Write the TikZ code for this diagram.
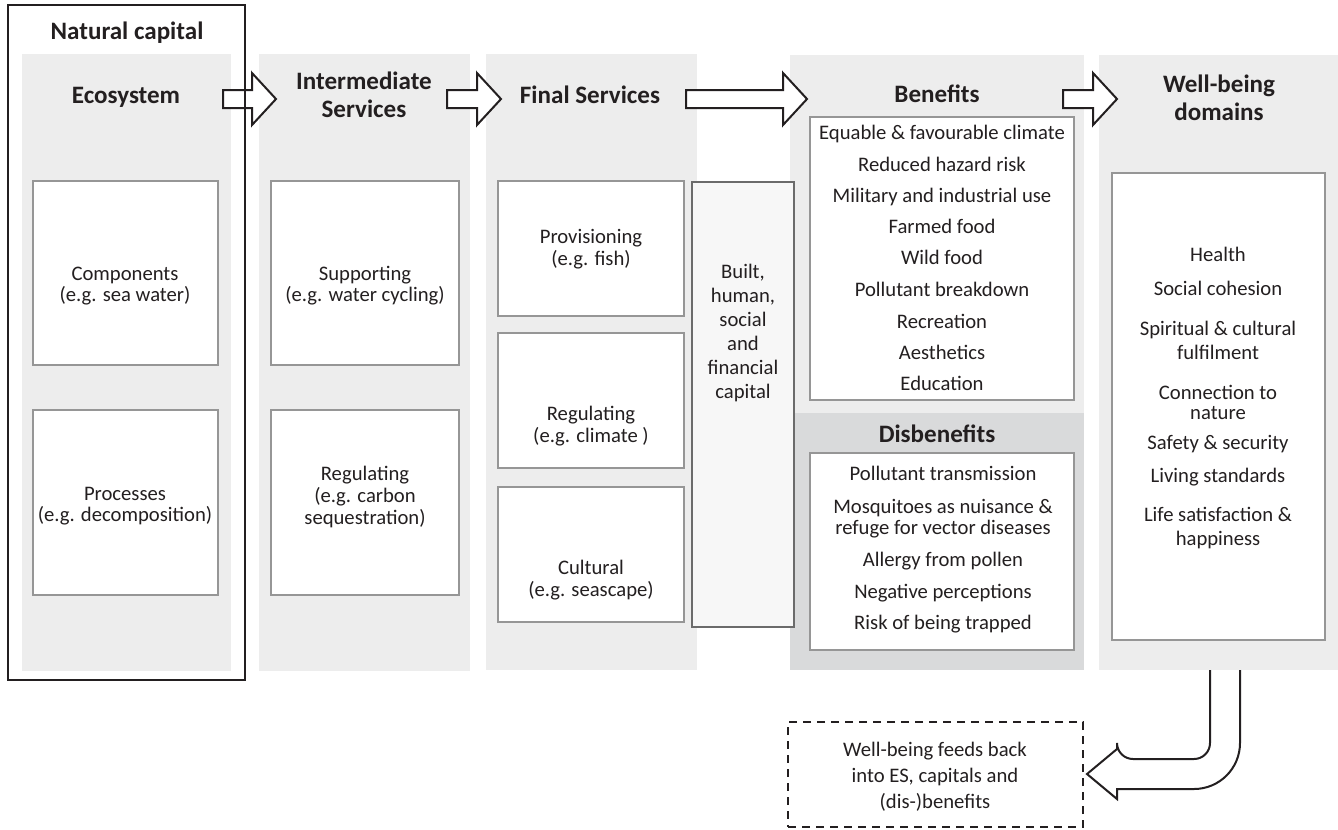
\documentclass[tikz,border=0pt]{standalone}
\usepackage{fontspec}
\setmainfont{Carlito}
\usetikzlibrary{fit}
\definecolor{panel}{HTML}{EDEDED}
\definecolor{dispanel}{HTML}{D9DADB}
\definecolor{bordergrey}{HTML}{969696}
\definecolor{builtborder}{HTML}{6B6B6B}
\definecolor{builtfill}{HTML}{F7F7F7}
\definecolor{ink}{HTML}{231F20}
\tikzset{
  panelbox/.style={fill=panel, draw=none, inner sep=0pt},
  dispanelbox/.style={fill=dispanel, draw=none, inner sep=0pt},
  subbox/.style={draw=bordergrey, line width=1.7pt, fill=white, inner sep=0pt},
  builtbox/.style={draw=builtborder, line width=1.6pt, fill=builtfill, inner sep=0pt},
  outerbox/.style={draw=ink, line width=2pt, inner sep=0pt},
  txt/.style={font=\fontsize{15.5}{18}\selectfont, text=ink, inner sep=0pt, text height=9.3pt, text depth=0pt},
  hd/.style={font=\fontsize{18.8}{22}\selectfont\bfseries, text=ink, inner sep=0pt, text height=11.3pt, text depth=0pt},
  blockarrow/.style={draw=ink, line width=1.5pt, fill=white, line join=miter},
  feedarrow/.style={draw=ink, line width=1.5pt, line join=miter},
  dashbox/.style={draw=ink, line width=1.5pt, dash pattern=on 6pt off 4.5pt, inner sep=0pt},
}
\begin{document}
\begin{tikzpicture}[x=0.75pt,y=-0.75pt]
\useasboundingbox (0,0) rectangle (1338,829);
% panels
\node[panelbox, fit={(22,54)(231,671)}] (ecopanel) {};
\node[panelbox, fit={(259,54)(470,671)}] (intpanel) {};
\node[panelbox, fit={(486,54)(697,670)}] (finpanel) {};
\node[panelbox, fit={(790,55)(1084,670)}] (benpanel) {};
\node[dispanelbox, fit={(790,413)(1084,670)}] (dispanel) {};
\node[panelbox, fit={(1099,55)(1338,670)}] (wbpanel) {};
% block arrows
\draw[blockarrow] (223,90) -- (252,90) -- (252,73) -- (276,99) -- (252,125) -- (252,108) -- (223,108) -- cycle;
\draw[blockarrow] (447,90) -- (477,90) -- (477,73) -- (501,99) -- (477,125) -- (477,108) -- (447,108) -- cycle;
\draw[blockarrow] (686,90) -- (783,90) -- (783,73) -- (807,99) -- (783,125) -- (783,108) -- (686,108) -- cycle;
\draw[blockarrow] (1063,90) -- (1093,90) -- (1093,73) -- (1117,99) -- (1093,125) -- (1093,108) -- (1063,108) -- cycle;
% natural capital frame
\node[outerbox, fit={(8,5)(245,680)}] (natcap) {};
% headings
\node[hd] (hnat) at (127,32) {Natural capital};
\node[hd] (heco) at (126,96) {Ecosystem};
\node[hd] (hint1) at (364,82) {Intermediate};
\node[hd] (hint2) at (364,110) {Services};
\node[hd] (hfin) at (590,96) {Final Services};
\node[hd] (hben) at (937,95) {Benefits};
\node[hd] (hdis) at (937,435) {Disbenefits};
\node[hd] (hwb1) at (1219,85) {Well-being};
\node[hd] (hwb2) at (1219,113) {domains};
% sub boxes
\node[subbox, fit={(33,181)(218,365)}] (compbox) {};
\node[subbox, fit={(33,410)(218,595)}] (procbox) {};
\node[subbox, fit={(271,181)(459,365)}] (suppbox) {};
\node[subbox, fit={(271,410)(459,595)}] (regibox) {};
\node[subbox, fit={(498,181)(684,316)}] (provbox) {};
\node[subbox, fit={(498,333)(684,468)}] (regfbox) {};
\node[subbox, fit={(498,487)(684,622)}] (cultbox) {};
\node[builtbox, fit={(692,182)(794,627)}] (builtbox) {};
\node[subbox, fit={(810,117)(1074,400)}] (benbox) {};
\node[subbox, fit={(810,453)(1074,650)}] (disbox) {};
\node[subbox, fit={(1112,173)(1325,640)}] (wbbox) {};
% ecosystem texts
\node[txt] (comp1) at (125,274) {Components};
\node[txt] (comp2) at (125,295) {(e.g. sea water)};
\node[txt] (proc1) at (125,494) {Processes};
\node[txt] (proc2) at (125,515) {(e.g. decomposition)};
% intermediate texts
\node[txt] (supp1) at (365,274) {Supporting};
\node[txt] (supp2) at (365,295) {(e.g. water cycling)};
\node[txt] (regi1) at (365,474) {Regulating};
\node[txt] (regi2) at (365,496) {(e.g. carbon};
\node[txt] (regi3) at (365,518) {sequestration)};
% final texts
\node[txt] (prov1) at (591,237) {Provisioning};
\node[txt] (prov2) at (591,259) {(e.g. fish)};
\node[txt] (regf1) at (591,414) {Regulating};
\node[txt] (regf2) at (591,436) {(e.g. climate )};
\node[txt] (cult1) at (591,568) {Cultural};
\node[txt] (cult2) at (591,590) {(e.g. seascape)};
% built capital
\node[txt] (bu1) at (743,272) {Built,};
\node[txt] (bu2) at (743,296) {human,};
\node[txt] (bu3) at (743,320) {social};
\node[txt] (bu4) at (743,344) {and};
\node[txt] (bu5) at (743,368) {financial};
\node[txt] (bu6) at (743,392) {capital};
% benefits
\node[txt] (be1) at (942,133) {Equable \& favourable climate};
\node[txt] (be2) at (942,165) {Reduced hazard risk};
\node[txt] (be3) at (942,196) {Military and industrial use};
\node[txt] (be4) at (942,227) {Farmed food};
\node[txt] (be5) at (942,258) {Wild food};
\node[txt] (be6) at (942,290) {Pollutant breakdown};
\node[txt] (be7) at (942,322) {Recreation};
\node[txt] (be8) at (942,353) {Aesthetics};
\node[txt] (be9) at (942,384) {Education};
% disbenefits
\node[txt] (di1) at (943,474) {Pollutant transmission};
\node[txt] (di2) at (943,507) {Mosquitoes as nuisance \&};
\node[txt] (di3) at (943,528) {refuge for vector diseases};
\node[txt] (di4) at (943,560) {Allergy from pollen};
\node[txt] (di5) at (943,592) {Negative perceptions};
\node[txt] (di6) at (943,623) {Risk of being trapped};
% well-being
\node[txt] (wb1) at (1218,255) {Health};
\node[txt] (wb2) at (1218,289) {Social cohesion};
\node[txt] (wb3) at (1218,329) {Spiritual \& cultural};
\node[txt] (wb4) at (1218,353) {fulfilment};
\node[txt] (wb5) at (1218,393) {Connection to};
\node[txt] (wb6) at (1218,413) {nature};
\node[txt] (wb7) at (1218,443) {Safety \& security};
\node[txt] (wb8) at (1218,476) {Living standards};
\node[txt] (wb9) at (1218,515) {Life satisfaction \&};
\node[txt] (wb10) at (1218,539) {happiness};
% feedback
\node[dashbox, fit={(788,722)(1083,827)}] (feedbox) {};
\node[txt] (fb1) at (935,750) {Well-being feeds back};
\node[txt] (fb2) at (935,776) {into ES, capitals and};
\node[txt] (fb3) at (935,802) {(dis-)benefits};
\draw[feedarrow] (1210,670) [rounded corners=12pt] -- (1210,759) -- (1117,759) [sharp corners] -- (1117,749) -- (1087,774) -- (1117,799) -- (1117,789) [rounded corners=34.5pt] -- (1240,789) -- (1240,670);
\end{tikzpicture}
\end{document}
